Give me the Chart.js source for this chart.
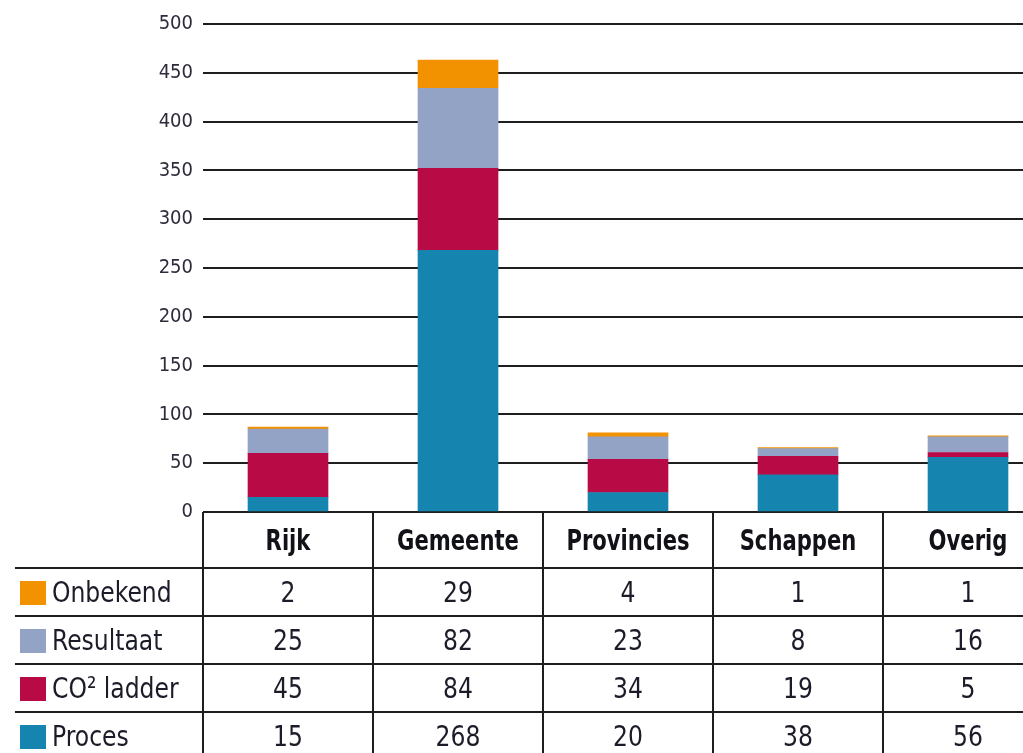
<!DOCTYPE html>
<html>
<head>
<meta charset="utf-8">
<title>Projecten per overheidslaag</title>
<script src="https://cdn.jsdelivr.net/npm/chart.js@4/dist/chart.umd.min.js"></script>
<style>
  html, body { margin: 0; padding: 0; background: #fff; overflow: hidden; }
  #wrap { position: absolute; left: 0; top: 0; }
</style>
</head>
<body>
<div id="wrap"><canvas id="chart" width="1053" height="780"></canvas></div>
<script>
// Data
const categories = ['Rijk', 'Gemeente', 'Provincies', 'Schappen', 'Overig'];
const proces     = [15, 268, 20, 38, 56];
const co2Ladder  = [45, 84, 34, 19, 5];
const resultaat  = [25, 82, 23, 8, 16];
const onbekend   = [2, 29, 4, 1, 1];
const yMax = 500;
const yStep = 50;

const COLORS = {
  onbekend: '#F39200',
  resultaat: '#93A3C6',
  co2: '#B80A44',
  proces: '#1585B0',
  line: '#1e1e1e',
  text: '#1c1c28'
};

const FONT = '"Liberation Sans Narrow", "DejaVu Sans Condensed", Arial, sans-serif';

// stacked from the bottom up
const datasets = [
  { label: 'Proces', data: proces, backgroundColor: COLORS.proces },
  { label: 'CO² ladder', data: co2Ladder, backgroundColor: COLORS.co2 },
  { label: 'Resultaat', data: resultaat, backgroundColor: COLORS.resultaat },
  { label: 'Onbekend', data: onbekend, backgroundColor: COLORS.onbekend }
];

// narrow text: squeeze the glyphs horizontally
function narrowText(ctx, text, x, y, sx) {
  ctx.save();
  ctx.translate(x, y);
  ctx.scale(sx, 1);
  ctx.fillText(text, 0, 0);
  ctx.restore();
}

// Data table drawn under the plot area
const dataTable = {
  id: 'dataTable',
  afterDraw(chart) {
    const ctx = chart.ctx;
    const area = chart.chartArea;
    const x = chart.scales.x;
    const top = area.bottom;
    const headerH = 56;
    const rowH = 48;
    const labelLeft = 15;
    const rows = datasets.slice().reverse(); // Onbekend first
    const bottom = top + headerH + rowH * rows.length;
    const step = x.getPixelForValue(1) - x.getPixelForValue(0);

    ctx.save();
    ctx.strokeStyle = COLORS.line;
    ctx.lineWidth = 2;

    // vertical column lines
    for (let i = 0; i <= categories.length; i++) {
      const vx = Math.round(area.left + step * i);
      ctx.beginPath();
      ctx.moveTo(vx, top);
      ctx.lineTo(vx, bottom);
      ctx.stroke();
    }
    // horizontal row lines
    for (let r = 0; r <= rows.length; r++) {
      const hy = Math.round(top + headerH + rowH * r);
      ctx.beginPath();
      ctx.moveTo(labelLeft, hy);
      ctx.lineTo(area.right, hy);
      ctx.stroke();
    }

    // header
    ctx.fillStyle = '#111118';
    ctx.textAlign = 'center';
    ctx.textBaseline = 'middle';
    ctx.font = 'bold 29px ' + FONT;
    categories.forEach((c, i) => {
      narrowText(ctx, c, x.getPixelForValue(i), top + headerH / 2 + 2, 0.81);
    });

    // rows
    rows.forEach((ds, r) => {
      const cy = top + headerH + rowH * r + rowH / 2 + 1;
      ctx.fillStyle = ds.backgroundColor;
      ctx.fillRect(20, cy - 12, 26, 24);
      ctx.fillStyle = COLORS.text;
      ctx.font = '29px ' + FONT;
      ctx.textAlign = 'left';
      narrowText(ctx, ds.label, 52, cy + 1, 0.9);
      ctx.textAlign = 'center';
      ds.data.forEach((v, i) => {
        narrowText(ctx, String(v), x.getPixelForValue(i), cy + 1, 0.9);
      });
    });
    ctx.restore();
  }
};

new Chart(document.getElementById('chart'), {
  type: 'bar',
  data: { labels: categories, datasets: datasets },
  options: {
    responsive: false,
    animation: false,
    layout: { padding: { top: 24, right: 0, bottom: 268, left: 0 } },
    plugins: {
      legend: { display: false },
      tooltip: { enabled: false }
    },
    datasets: {
      bar: { barThickness: 80, borderWidth: 0 }
    },
    scales: {
      x: {
        stacked: true,
        display: false
      },
      y: {
        stacked: true,
        min: 0,
        max: yMax,
        afterFit: s => { s.width = 203; },
        border: { display: false },
        grid: { color: COLORS.line, lineWidth: 2, drawTicks: false },
        ticks: {
          stepSize: yStep,
          padding: 10,
          color: '#2c2c3c',
          font: { family: FONT, size: 20 }
        }
      }
    }
  },
  plugins: [dataTable]
});
</script>
</body>
</html>
